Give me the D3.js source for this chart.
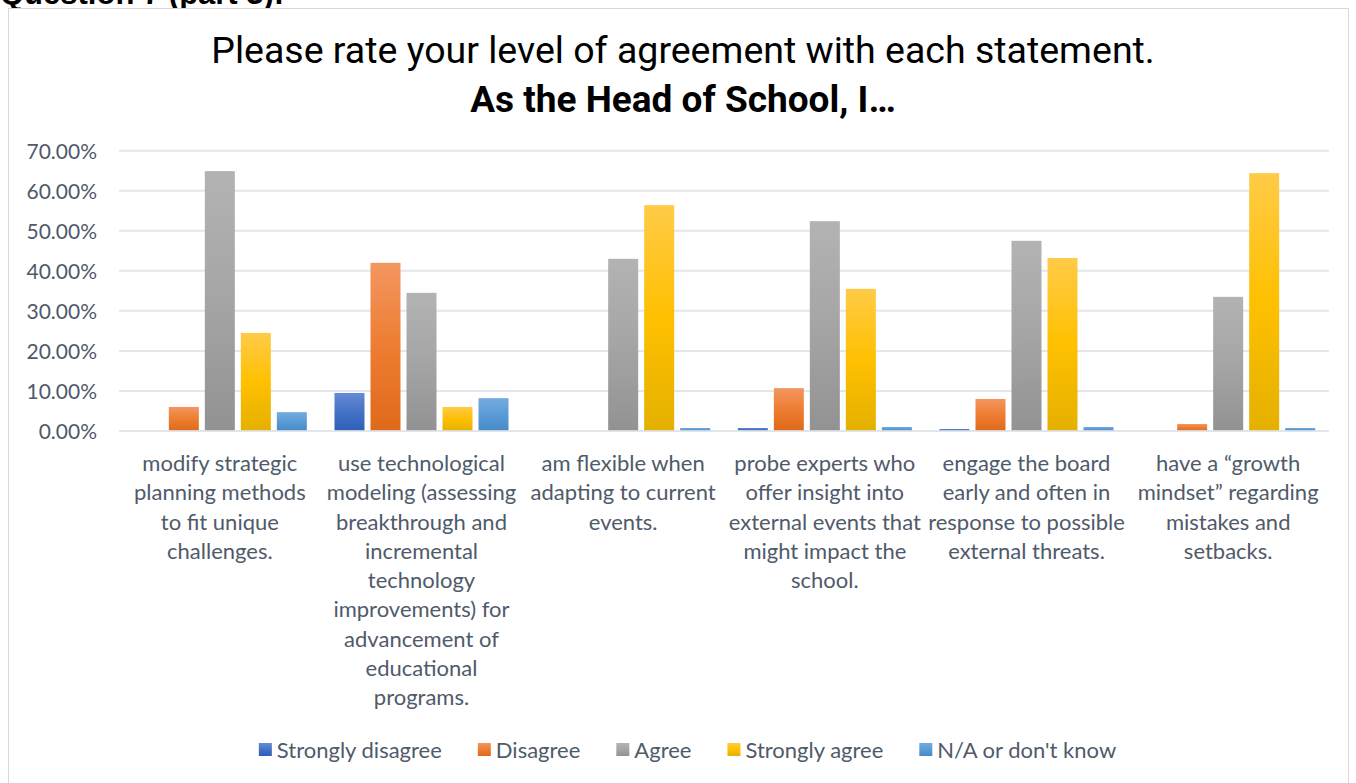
<!DOCTYPE html>
<html>
<head>
<meta charset="utf-8">
<script src="https://cdn.jsdelivr.net/npm/d3@7"></script>
<style>
  html, body { margin: 0; padding: 0; background: #fff; overflow: hidden; }
  svg { display: block; }
</style>
</head>
<body>
<svg id="chart" width="1356" height="783"></svg>
<script>
// Statements (pre-wrapped axis labels)
const categories = [
  ["modify strategic", "planning methods", "to fit unique", "challenges."],
  ["use technological", "modeling (assessing", "breakthrough and", "incremental", "technology", "improvements) for", "advancement of", "educational", "programs."],
  ["am flexible when", "adapting to current", "events."],
  ["probe experts who", "offer insight into", "external events that", "might impact the", "school."],
  ["engage the board", "early and often in", "response to possible", "external threats."],
  ["have a \u201cgrowth", "mindset\u201d regarding", "mistakes and", "setbacks."]
];

const seriesNames = ["Strongly disagree", "Disagree", "Agree", "Strongly agree", "N/A or don't know"];

// Share of respondents per statement
const stronglyDisagree = [0.000, 0.095, 0.000, 0.0075, 0.005, 0.000];
const disagree         = [0.060, 0.420, 0.000, 0.107, 0.080, 0.0175];
const agree            = [0.649, 0.345, 0.430, 0.524, 0.475, 0.335];
const stronglyAgree    = [0.245, 0.060, 0.564, 0.355, 0.432, 0.644];
const notApplicable    = [0.047, 0.082, 0.0075, 0.010, 0.010, 0.0075];

const yTicks = [0, 0.1, 0.2, 0.3, 0.4, 0.5, 0.6, 0.7];

const seriesValues = [stronglyDisagree, disagree, agree, stronglyAgree, notApplicable];

// light / base / dark stops for each series' vertical gradient
const seriesColors = [
  ["#658bd6", "#4472c4", "#2f5eb8"],
  ["#f39661", "#ed7d31", "#e0691b"],
  ["#b3b3b3", "#a5a5a5", "#929292"],
  ["#ffcb48", "#ffc000", "#e4b000"],
  ["#74abe0", "#5b9bd5", "#468acb"]
];

const svg = d3.select("#chart");
const textColor = "#4f5a6a";
const labelFont = "Lato, 'Open Sans', sans-serif";

// gradients
const defs = svg.append("defs");
seriesColors.forEach((c, i) => {
  const g = defs.append("linearGradient")
    .attr("id", "grad" + i)
    .attr("x1", 0).attr("y1", 0).attr("x2", 0).attr("y2", 1);
  g.append("stop").attr("offset", "0%").attr("stop-color", c[0]);
  g.append("stop").attr("offset", "50%").attr("stop-color", c[1]);
  g.append("stop").attr("offset", "100%").attr("stop-color", c[2]);
});

// page heading above the chart box
svg.append("text")
  .attr("x", 0).attr("y", 4)
  .attr("font-family", "'Liberation Sans', Arial, sans-serif")
  .attr("font-weight", "bold")
  .attr("font-size", 31)
  .attr("fill", "#000")
  .text("Question 7 (part 3):");

// chart frame
svg.append("rect")
  .attr("x", 8.5).attr("y", 8.5)
  .attr("width", 1340).attr("height", 790)
  .attr("fill", "#fff")
  .attr("stroke", "#d9d9d9")
  .attr("stroke-width", 1);

// title
svg.append("text")
  .attr("x", 683).attr("y", 63)
  .attr("text-anchor", "middle")
  .attr("font-family", "Roboto, sans-serif")
  .attr("font-size", 37.5)
  .attr("fill", "#000")
  .text("Please rate your level of agreement with each statement.");
svg.append("text")
  .attr("x", 683).attr("y", 112)
  .attr("text-anchor", "middle")
  .attr("font-family", "Roboto, sans-serif")
  .attr("font-weight", "bold")
  .attr("font-size", 37)
  .attr("fill", "#000")
  .text("As the Head of School, I\u2026");

// scales
const plotLeft = 119, plotRight = 1329;
const x0 = d3.scaleBand()
  .domain(d3.range(categories.length))
  .range([plotLeft, plotRight])
  .paddingInner(0).paddingOuter(0);
const x1 = d3.scaleBand()
  .domain(d3.range(seriesNames.length))
  .range([0, x0.bandwidth()])
  .paddingInner(1 / 6)
  .paddingOuter(0.384);
const y = d3.scaleLinear().domain([0, 0.7]).range([431, 150.7]);

// gridlines
svg.append("g")
  .selectAll("line")
  .data(yTicks.slice(1))
  .join("line")
  .attr("x1", plotLeft).attr("x2", plotRight)
  .attr("y1", d => y(d)).attr("y2", d => y(d))
  .attr("stroke", "#e3e6ea")
  .attr("stroke-width", 2);

// y axis labels
const yAxis = d3.axisLeft(y).tickValues(yTicks).tickFormat(d3.format(".2%")).tickSize(0).tickPadding(0);
const yg = svg.append("g").attr("transform", "translate(97,0)").call(yAxis);
yg.select(".domain").remove();
yg.selectAll("text")
  .attr("font-family", labelFont)
  .attr("font-size", 21)
  .attr("fill", textColor)
  .attr("dy", "0.35em");

// bars
const groups = svg.append("g")
  .selectAll("g")
  .data(categories.map((c, ci) => ci))
  .join("g")
  .attr("transform", ci => `translate(${x0(ci)},0)`);

groups.selectAll("rect")
  .data(ci => seriesValues.map((vals, si) => ({ si, v: vals[ci] })))
  .join("rect")
  .filter(d => d.v > 0)
  .attr("x", d => x1(d.si))
  .attr("width", x1.bandwidth())
  .attr("y", d => y(d.v))
  .attr("height", d => y(0) - y(d.v))
  .attr("fill", d => `url(#grad${d.si})`);

// baseline
svg.append("line")
  .attr("x1", plotLeft).attr("x2", plotRight)
  .attr("y1", y(0)).attr("y2", y(0))
  .attr("stroke", "#dde1e6")
  .attr("stroke-opacity", 0.85)
  .attr("stroke-width", 2);

// category labels
const xAxis = d3.axisBottom(x0).tickSize(0).tickFormat("");
const xg = svg.append("g").attr("transform", `translate(0,${y(0)})`).call(xAxis);
xg.select(".domain").remove();
xg.selectAll(".tick").each(function (ci) {
  const t = d3.select(this).append("text")
    .attr("text-anchor", "middle")
    .attr("font-family", labelFont)
    .attr("font-size", 22)
    .attr("fill", textColor);
  categories[ci].forEach((line, li) => {
    t.append("tspan").attr("x", 0).attr("y", 40 + li * 29.25).text(line);
  });
});

// legend
const legend = svg.append("g");
const items = legend.selectAll("g")
  .data(seriesNames)
  .join("g");
items.append("rect")
  .attr("width", 13).attr("height", 13)
  .attr("y", -7)
  .attr("fill", (d, i) => `url(#grad${i})`);
items.append("text")
  .attr("x", 18)
  .attr("dy", "0.35em")
  .attr("font-family", labelFont)
  .attr("font-size", 22)
  .attr("fill", textColor)
  .text(d => d);
let cursor = 0;
const offsets = [];
items.each(function () {
  offsets.push(cursor);
  const w = 18 + d3.select(this).select("text").node().getComputedTextLength();
  cursor += w + 36;
});
const totalW = cursor - 36;
const legendLeft = 687.5 - totalW / 2;
items.attr("transform", (d, i) => `translate(${legendLeft + offsets[i]},750)`);
</script>
</body>
</html>
